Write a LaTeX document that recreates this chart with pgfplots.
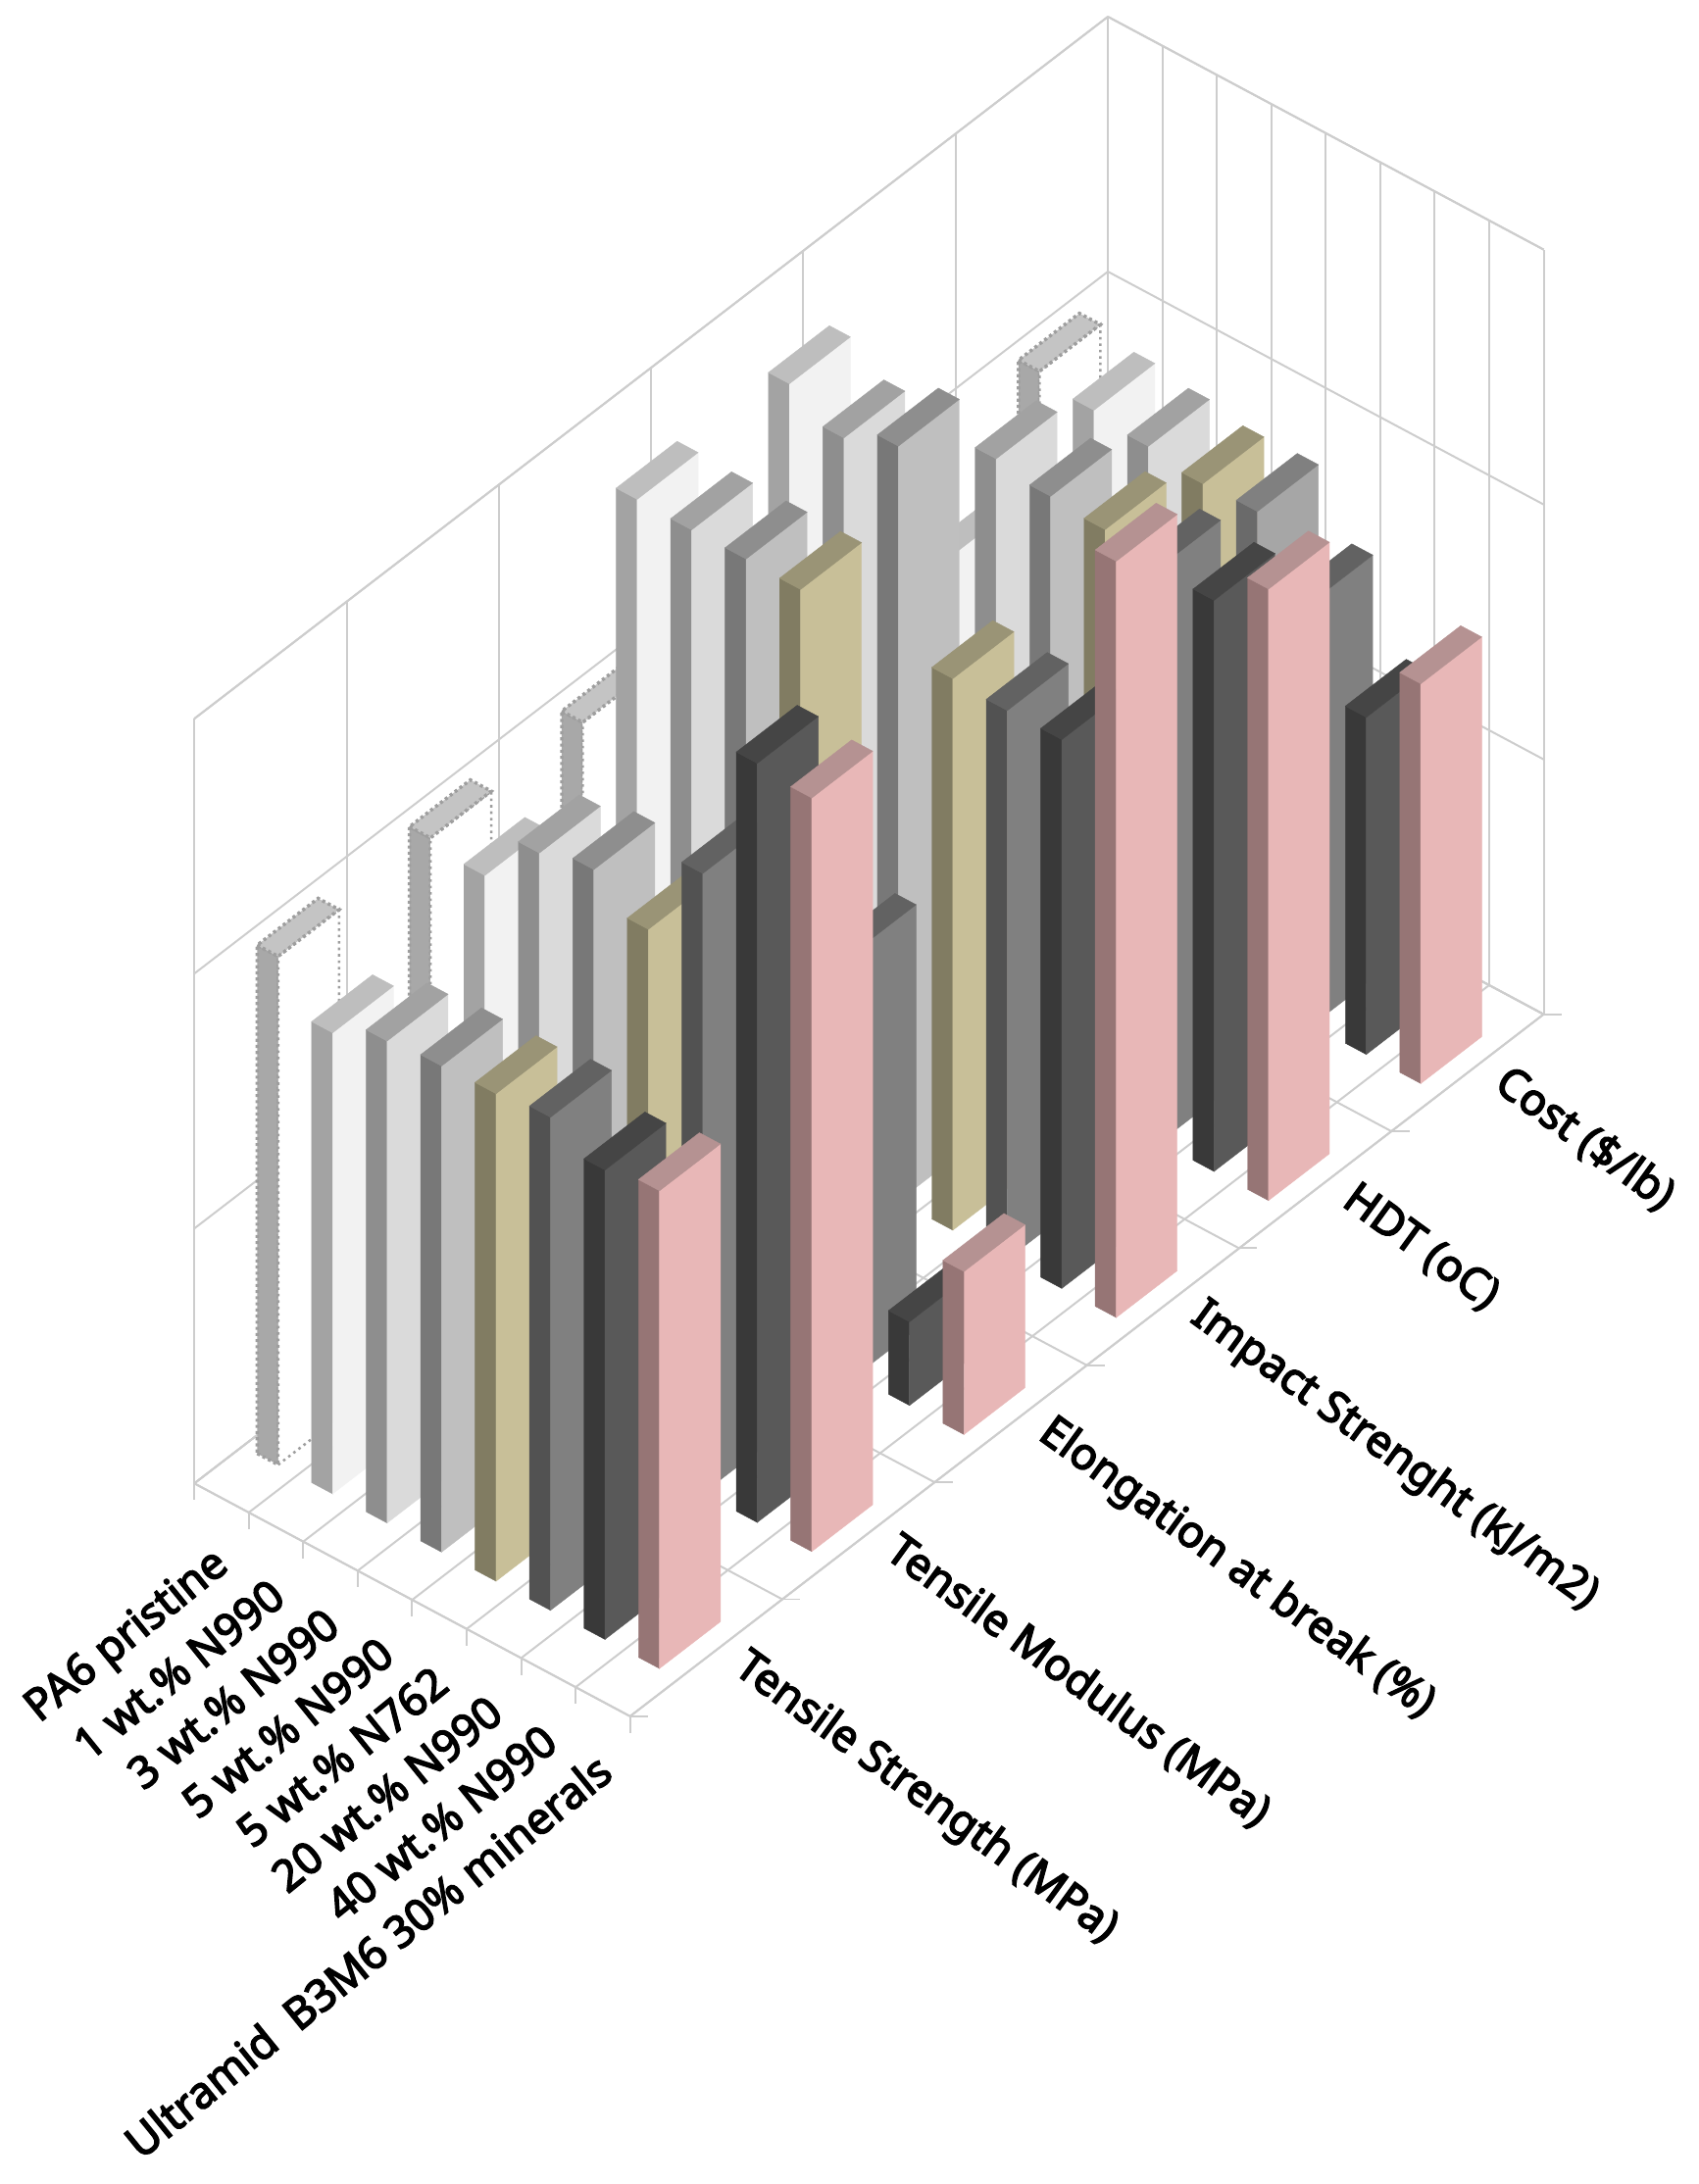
\documentclass[border=0pt]{standalone}
\usepackage{fontspec}
\setmainfont{Noto Sans}
\newfontfamily\lab{Noto Sans}[FakeBold=3.5]
\usepackage{pgfplots}
\pgfplotsset{compat=1.18}
\definecolor{gridc}{HTML}{CDCDCD}
\definecolor{Afront}{HTML}{FFFFFF}\definecolor{Aside}{HTML}{A8A8A8}\definecolor{Atop}{HTML}{C4C4C4}
\definecolor{Bfront}{HTML}{F2F2F2}\definecolor{Bside}{HTML}{A3A3A3}\definecolor{Btop}{HTML}{BEBEBE}
\definecolor{Cfront}{HTML}{DADADA}\definecolor{Cside}{HTML}{8E8E8E}\definecolor{Ctop}{HTML}{A2A2A2}
\definecolor{Dfront}{HTML}{BFBFBF}\definecolor{Dside}{HTML}{787878}\definecolor{Dtop}{HTML}{8E8E8E}
\definecolor{Kfront}{HTML}{C8BF98}\definecolor{Kside}{HTML}{817C62}\definecolor{Ktop}{HTML}{9A9476}
\definecolor{Gfront}{HTML}{A6A6A6}\definecolor{Gside}{HTML}{6A6A6A}\definecolor{Gtop}{HTML}{808080}
\definecolor{Efront}{HTML}{808080}\definecolor{Eside}{HTML}{525252}\definecolor{Etop}{HTML}{626262}
\definecolor{Ffront}{HTML}{595959}\definecolor{Fside}{HTML}{393939}\definecolor{Ftop}{HTML}{454545}
\definecolor{Pfront}{HTML}{E8B7B7}\definecolor{Pside}{HTML}{967575}\definecolor{Ptop}{HTML}{B59292}
% one 3-D bar: category, property, height, colour set
\newcommand\Bar[4]{%
  \pgfmathsetmacro\xa{#1+0.26}\pgfmathsetmacro\xb{#1+0.645}%
  \pgfmathsetmacro\ya{#2+0.32}\pgfmathsetmacro\yb{#2+0.72}%
  \addplot3[forget plot,draw=#4side,line width=.3pt,fill=#4side] coordinates {(\xa,\ya,0)(\xb,\ya,0)(\xb,\ya,#3)(\xa,\ya,#3)} -- cycle;
  \addplot3[forget plot,draw=#4front,line width=.3pt,fill=#4front] coordinates {(\xb,\ya,0)(\xb,\yb,0)(\xb,\yb,#3)(\xb,\ya,#3)} -- cycle;
  \addplot3[forget plot,draw=#4top,line width=.3pt,fill=#4top] coordinates {(\xa,\ya,#3)(\xb,\ya,#3)(\xb,\yb,#3)(\xa,\yb,#3)} -- cycle;
}
% the dotted PA6 bar
\newcommand\DotBar[3]{%
  \pgfmathsetmacro\xa{#1+0.26}\pgfmathsetmacro\xb{#1+0.645}%
  \pgfmathsetmacro\ya{#2+0.32}\pgfmathsetmacro\yb{#2+0.72}%
  \addplot3[forget plot,draw=black!38,dash pattern=on 2.2pt off 2.2pt,line width=2.4pt,fill=Aside] coordinates {(\xa,\ya,0)(\xb,\ya,0)(\xb,\ya,#3)(\xa,\ya,#3)} -- cycle;
  \addplot3[forget plot,draw=black!38,dash pattern=on 1.8pt off 2.8pt,line width=1.8pt,fill=Afront] coordinates {(\xb,\ya,0)(\xb,\yb,0)(\xb,\yb,#3)(\xb,\ya,#3)} -- cycle;
  \addplot3[forget plot,draw=black!38,dash pattern=on 2.2pt off 2.2pt,line width=2.4pt,fill=Atop] coordinates {(\xa,\ya,#3)(\xb,\ya,#3)(\xb,\yb,#3)(\xa,\yb,#3)} -- cycle;
}
\begin{document}
\begin{tikzpicture}
\begin{axis}[
  x={(39.1pt,-20.9pt)}, y={(109.3pt,84pt)}, z={(0pt,1pt)},
  xmin=0,xmax=8,ymin=0,ymax=6,zmin=0,zmax=549,
  clip=false,
  3d box=background,
  axis line style={draw=gridc,line width=1.4pt},
  grid=major,
  grid style={draw=gridc,line width=1.4pt},
  major tick length=0pt,
  tick style={draw=none},
  xtick={0,1,2,3,4,5,6,7,8}, ytick={0,1,2,3,4,5,6}, ztick={0,183,366,549},
  xticklabels={}, yticklabels={}, zticklabels={},
  extra x ticks={0.5,1.5,2.5,3.5,4.5,5.5,6.5,7.5},
  extra x tick labels={PA6 pristine,1 wt.\% N990,3 wt.\% N990,5 wt.\% N990,5 wt.\% N762,20 wt.\% N990,40 wt.\% N990,Ultramid\ \ B3M6 30\% minerals},
  extra y ticks={0.5,1.5,2.5,3.5,4.5,5.5},
  extra y tick labels={Tensile Strength (MPa),Tensile Modulus (MPa),Elongation at break (\%),Impact Strenght (kJ/m2),HDT (oC),Cost (\$/lb)},
  extra tick style={grid=none},
  xticklabel style={font=\fontsize{31.5}{38}\lab,rotate=39,anchor=east,inner sep=0pt,xshift=-27pt,yshift=-35.5pt},
  yticklabel style={font=\fontsize{31.5}{38}\lab,rotate=-36,anchor=west,inner sep=0pt,xshift=21pt,yshift=11pt},
]
\coordinate (O) at (axis cs:0,0,0);
% Cost
\DotBar{0}{5}{365}
\Bar{1}{5}{358}{B}
\Bar{2}{5}{353}{C}
\Bar{3}{5}{347}{K}
\Bar{4}{5}{348}{G}
\Bar{5}{5}{304}{E}
\Bar{6}{5}{242}{F}
\Bar{7}{5}{287}{P}
% HDT
\DotBar{0}{4}{360}
\Bar{1}{4}{332}{B}
\Bar{2}{4}{428}{C}
\Bar{3}{4}{422}{D}
\Bar{4}{4}{419}{K}
\Bar{5}{4}{413}{E}
\Bar{6}{4}{410}{F}
\Bar{7}{4}{439}{P}
% Impact
\DotBar{0}{3}{360}
\Bar{1}{3}{545}{B}
\Bar{2}{3}{527}{C}
\Bar{3}{3}{542}{D}
\Bar{4}{3}{396}{K}
\Bar{5}{3}{394}{E}
\Bar{6}{3}{394}{F}
\Bar{7}{3}{543}{P}
% Elongation
\DotBar{0}{2}{365}
\Bar{1}{2}{546}{B}
\Bar{2}{2}{545}{C}
\Bar{3}{2}{545}{D}
\Bar{4}{2}{544}{K}
\Bar{5}{2}{305}{E}
\Bar{6}{2}{60}{F}
\Bar{7}{2}{117}{P}
% Modulus
\DotBar{0}{1}{366}
\Bar{1}{1}{360}{B}
\Bar{2}{1}{397}{C}
\Bar{3}{1}{406}{D}
\Bar{4}{1}{384}{K}
\Bar{5}{1}{445}{E}
\Bar{6}{1}{545}{F}
\Bar{7}{1}{541}{P}
% Strength
\DotBar{0}{0}{365}
\Bar{1}{0}{331}{B}
\Bar{2}{0}{346}{C}
\Bar{3}{0}{349}{D}
\Bar{4}{0}{350}{K}
\Bar{5}{0}{354}{E}
\Bar{6}{0}{337}{F}
\Bar{7}{0}{343}{P}
% tick marks
\pgfplotsinvokeforeach{0,1,2,3,4,5,6,7,8}{\draw[gridc,line width=1.4pt] (axis cs:#1,0,0) -- ++(0pt,-12pt);}
\pgfplotsinvokeforeach{0,1,2,3,4,5,6}{\draw[gridc,line width=1.4pt] (axis cs:8,#1,0) -- ++(13pt,0pt);}
\end{axis}
\pgfresetboundingbox
\path[use as bounding box] ([shift={(-139.5pt,-503pt)}]O) rectangle ([shift={(1079.5pt,1065pt)}]O);
\end{tikzpicture}
\end{document}
